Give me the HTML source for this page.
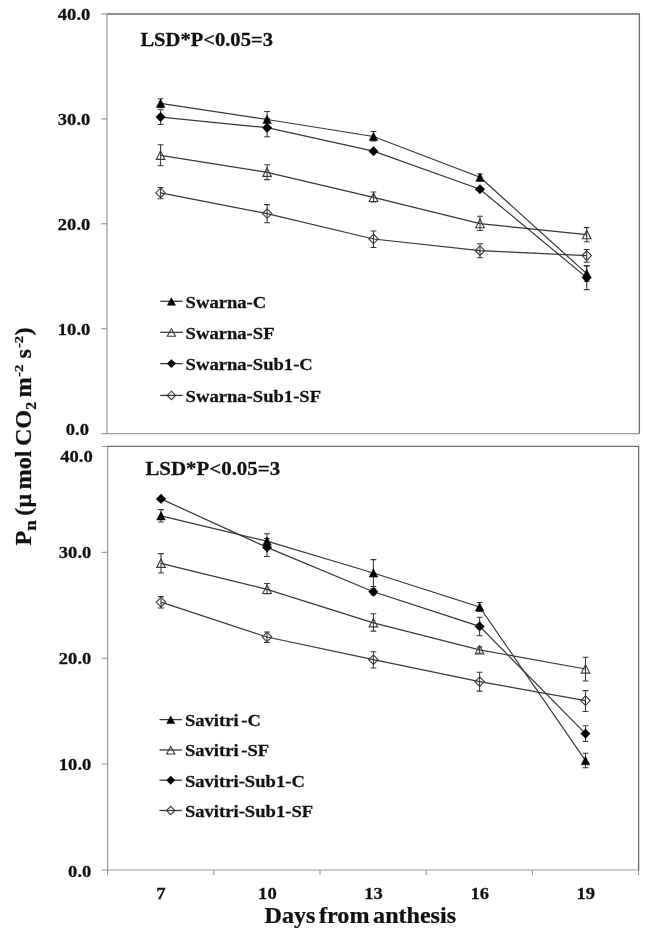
<!DOCTYPE html>
<html lang="en"><head><meta charset="utf-8"><title>Pn vs days from anthesis</title>
<style>html,body{margin:0;padding:0;background:#fff}svg{display:block;filter:blur(0.4px)}text{font-family:"Liberation Serif","Times New Roman",serif;font-weight:bold;fill:#111;stroke:#111;stroke-width:0.25px}</style>
</head><body>
<svg width="645" height="935" viewBox="0 0 645 935">
<rect width="645" height="935" fill="#fff"/>
<g>
<path d="M107.0 14.0H639.4V433.7" fill="none" stroke="#6c6c6c" stroke-width="1.3"/>
<path d="M107.0 13.4V433.7H640.0" fill="none" stroke="#9a9a9a" stroke-width="1.2"/>
<line x1="101.2" x2="107.0" y1="14.0" y2="14.0" stroke="#8a8a8a" stroke-width="1"/>
<text transform="translate(90.3,20.4) scale(1.05,1)" font-size="17.7" text-anchor="end" xml:space="preserve">40.0</text>
<line x1="101.2" x2="107.0" y1="118.9" y2="118.9" stroke="#8a8a8a" stroke-width="1"/>
<text transform="translate(90.3,125.3) scale(1.05,1)" font-size="17.7" text-anchor="end" xml:space="preserve">30.0</text>
<line x1="101.2" x2="107.0" y1="223.8" y2="223.8" stroke="#8a8a8a" stroke-width="1"/>
<text transform="translate(90.3,230.4) scale(1.05,1)" font-size="17.7" text-anchor="end" xml:space="preserve">20.0</text>
<line x1="101.2" x2="107.0" y1="328.8" y2="328.8" stroke="#8a8a8a" stroke-width="1"/>
<text transform="translate(90.3,335.3) scale(1.05,1)" font-size="17.7" text-anchor="end" xml:space="preserve">10.0</text>
<line x1="101.2" x2="107.0" y1="433.7" y2="433.7" stroke="#8a8a8a" stroke-width="1"/>
<text transform="translate(89.0,435.3) scale(1.05,1)" font-size="17.7" text-anchor="end" xml:space="preserve">0.0</text>
<polyline points="160.6,103.3 267.1,119.5 373.5,136.5 480.0,177.3 586.7,273.6" fill="none" stroke="#383838" stroke-width="1.2"/>
<polyline points="160.6,155.3 267.1,172.3 373.5,197.4 480.0,223.6 586.7,234.6" fill="none" stroke="#383838" stroke-width="1.2"/>
<polyline points="160.6,117.1 267.1,127.7 373.5,151.2 480.0,189.3 586.7,277.6" fill="none" stroke="#383838" stroke-width="1.2"/>
<polyline points="160.6,192.9 267.1,213.6 373.5,239.0 480.0,250.7 586.7,255.6" fill="none" stroke="#383838" stroke-width="1.2"/>
<polygon points="160.6,151.0 164.9,159.4 156.3,159.4" fill="none" stroke="#3c3c3c" stroke-width="1.1"/>
<polygon points="267.1,168.0 271.4,176.4 262.8,176.4" fill="none" stroke="#3c3c3c" stroke-width="1.1"/>
<polygon points="373.5,193.1 377.8,201.5 369.2,201.5" fill="none" stroke="#3c3c3c" stroke-width="1.1"/>
<polygon points="480.0,219.3 484.3,227.7 475.7,227.7" fill="none" stroke="#3c3c3c" stroke-width="1.1"/>
<polygon points="586.7,230.3 591.0,238.7 582.4,238.7" fill="none" stroke="#3c3c3c" stroke-width="1.1"/>
<polygon points="160.6,188.2 165.3,192.9 160.6,197.7 155.8,192.9" fill="none" stroke="#3c3c3c" stroke-width="1.1"/>
<polygon points="267.1,208.8 271.9,213.6 267.1,218.3 262.4,213.6" fill="none" stroke="#3c3c3c" stroke-width="1.1"/>
<polygon points="373.5,234.2 378.2,239.0 373.5,243.8 368.8,239.0" fill="none" stroke="#3c3c3c" stroke-width="1.1"/>
<polygon points="480.0,245.9 484.8,250.7 480.0,255.4 475.2,250.7" fill="none" stroke="#3c3c3c" stroke-width="1.1"/>
<polygon points="586.7,250.8 591.5,255.6 586.7,260.4 582.0,255.6" fill="none" stroke="#3c3c3c" stroke-width="1.1"/>
<path d="M160.6 144.8V165.8M157.7 144.8h5.8M157.7 165.8h5.8" stroke="#383838" stroke-width="1.05" fill="none"/>
<path d="M267.1 164.8V179.6M264.2 164.8h5.8M264.2 179.6h5.8" stroke="#383838" stroke-width="1.05" fill="none"/>
<path d="M373.5 192.0V202.0M370.6 192.0h5.8M370.6 202.0h5.8" stroke="#383838" stroke-width="1.05" fill="none"/>
<path d="M480.0 216.3V230.4M477.1 216.3h5.8M477.1 230.4h5.8" stroke="#383838" stroke-width="1.05" fill="none"/>
<path d="M586.7 227.6V241.8M583.8 227.6h5.8M583.8 241.8h5.8" stroke="#383838" stroke-width="1.05" fill="none"/>
<path d="M160.6 187.6V198.7M157.7 187.6h5.8M157.7 198.7h5.8" stroke="#383838" stroke-width="1.05" fill="none"/>
<path d="M267.1 204.6V222.7M264.2 204.6h5.8M264.2 222.7h5.8" stroke="#383838" stroke-width="1.05" fill="none"/>
<path d="M373.5 231.0V247.4M370.6 231.0h5.8M370.6 247.4h5.8" stroke="#383838" stroke-width="1.05" fill="none"/>
<path d="M480.0 243.8V257.7M477.1 243.8h5.8M477.1 257.7h5.8" stroke="#383838" stroke-width="1.05" fill="none"/>
<path d="M586.7 249.5V262.2M583.8 249.5h5.8M583.8 262.2h5.8" stroke="#383838" stroke-width="1.05" fill="none"/>
<path d="M160.6 98.8V107.8M157.7 98.8h5.8M157.7 107.8h5.8" stroke="#383838" stroke-width="1.05" fill="none"/>
<path d="M267.1 111.5V127.5M264.2 111.5h5.8M264.2 127.5h5.8" stroke="#383838" stroke-width="1.05" fill="none"/>
<path d="M373.5 131.5V141.0M370.6 131.5h5.8M370.6 141.0h5.8" stroke="#383838" stroke-width="1.05" fill="none"/>
<path d="M480.0 174.0V180.6M477.1 174.0h5.8M477.1 180.6h5.8" stroke="#383838" stroke-width="1.05" fill="none"/>
<path d="M586.7 266.0V281.2M583.8 266.0h5.8M583.8 281.2h5.8" stroke="#383838" stroke-width="1.05" fill="none"/>
<path d="M160.6 109.8V124.4M157.7 109.8h5.8M157.7 124.4h5.8" stroke="#383838" stroke-width="1.05" fill="none"/>
<path d="M267.1 118.7V136.7M264.2 118.7h5.8M264.2 136.7h5.8" stroke="#383838" stroke-width="1.05" fill="none"/>
<path d="M586.7 265.6V289.6M583.8 265.6h5.8M583.8 289.6h5.8" stroke="#383838" stroke-width="1.05" fill="none"/>
<polygon points="160.6,99.0 164.9,107.4 156.3,107.4" fill="#000" stroke="#000" stroke-width="0.5"/>
<polygon points="267.1,115.2 271.4,123.6 262.8,123.6" fill="#000" stroke="#000" stroke-width="0.5"/>
<polygon points="373.5,132.2 377.8,140.6 369.2,140.6" fill="#000" stroke="#000" stroke-width="0.5"/>
<polygon points="480.0,173.0 484.3,181.4 475.7,181.4" fill="#000" stroke="#000" stroke-width="0.5"/>
<polygon points="586.7,269.3 591.0,277.7 582.4,277.7" fill="#000" stroke="#000" stroke-width="0.5"/>
<polygon points="160.6,112.3 165.3,117.1 160.6,121.8 155.8,117.1" fill="#000" stroke="#000" stroke-width="0.5"/>
<polygon points="267.1,123.0 271.9,127.7 267.1,132.4 262.4,127.7" fill="#000" stroke="#000" stroke-width="0.5"/>
<polygon points="373.5,146.4 378.2,151.2 373.5,155.9 368.8,151.2" fill="#000" stroke="#000" stroke-width="0.5"/>
<polygon points="480.0,184.6 484.8,189.3 480.0,194.1 475.2,189.3" fill="#000" stroke="#000" stroke-width="0.5"/>
<polygon points="586.7,272.9 591.5,277.6 586.7,282.4 582.0,277.6" fill="#000" stroke="#000" stroke-width="0.5"/>
<line x1="160.2" x2="182.6" y1="301.3" y2="301.3" stroke="#383838" stroke-width="1.3"/>
<polygon points="171.4,297.8 175.5,305.3 167.3,305.3" fill="#000" stroke="#000" stroke-width="0.5"/>
<text transform="translate(185.6,307.6) scale(1.052,1)" font-size="17.7" text-anchor="start" xml:space="preserve" word-spacing="-2">Swarna-C</text>
<line x1="160.2" x2="182.6" y1="332.3" y2="332.3" stroke="#383838" stroke-width="1.3"/>
<polygon points="171.4,328.8 175.5,336.3 167.3,336.3" fill="none" stroke="#3c3c3c" stroke-width="1.1"/>
<text transform="translate(185.6,338.6) scale(1.052,1)" font-size="17.7" text-anchor="start" xml:space="preserve" word-spacing="-2">Swarna-SF</text>
<line x1="160.2" x2="182.6" y1="363.6" y2="363.6" stroke="#383838" stroke-width="1.3"/>
<polygon points="171.4,359.4 175.6,363.6 171.4,367.8 167.2,363.6" fill="#000" stroke="#000" stroke-width="0.5"/>
<text transform="translate(185.6,369.9) scale(1.052,1)" font-size="17.7" text-anchor="start" xml:space="preserve" word-spacing="-2">Swarna-Sub1-C</text>
<line x1="160.2" x2="182.6" y1="395.4" y2="395.4" stroke="#383838" stroke-width="1.3"/>
<polygon points="171.4,391.2 175.6,395.4 171.4,399.6 167.2,395.4" fill="none" stroke="#3c3c3c" stroke-width="1.1"/>
<text transform="translate(185.6,401.7) scale(1.052,1)" font-size="17.7" text-anchor="start" xml:space="preserve" word-spacing="-2">Swarna-Sub1-SF</text>
<text transform="translate(140.4,46.0) scale(1.06,1)" font-size="19.4" text-anchor="start" xml:space="preserve">LSD*P&lt;0.05=3</text>
</g>
<rect x="0" y="436" width="645" height="9" fill="#fff"/>
<g>
<path d="M107.6 446.4H638.6V870.0" fill="none" stroke="#6c6c6c" stroke-width="1.3"/>
<path d="M107.6 445.79999999999995V870.0H639.2" fill="none" stroke="#9a9a9a" stroke-width="1.2"/>
<line x1="101.8" x2="107.6" y1="446.4" y2="446.4" stroke="#8a8a8a" stroke-width="1"/>
<text transform="translate(92.7,462.3) scale(1.05,1)" font-size="17.7" text-anchor="end" xml:space="preserve">40.0</text>
<line x1="101.8" x2="107.6" y1="552.3" y2="552.3" stroke="#8a8a8a" stroke-width="1"/>
<text transform="translate(91.3,558.4) scale(1.05,1)" font-size="17.7" text-anchor="end" xml:space="preserve">30.0</text>
<line x1="101.8" x2="107.6" y1="658.2" y2="658.2" stroke="#8a8a8a" stroke-width="1"/>
<text transform="translate(91.3,664.4) scale(1.05,1)" font-size="17.7" text-anchor="end" xml:space="preserve">20.0</text>
<line x1="101.8" x2="107.6" y1="764.1" y2="764.1" stroke="#8a8a8a" stroke-width="1"/>
<text transform="translate(91.3,770.3) scale(1.05,1)" font-size="17.7" text-anchor="end" xml:space="preserve">10.0</text>
<line x1="101.8" x2="107.6" y1="870.0" y2="870.0" stroke="#8a8a8a" stroke-width="1"/>
<text transform="translate(91.3,876.6) scale(1.05,1)" font-size="17.7" text-anchor="end" xml:space="preserve">0.0</text>
<line x1="107.6" x2="107.6" y1="870.0" y2="875.2" stroke="#8a8a8a" stroke-width="1"/>
<line x1="213.8" x2="213.8" y1="870.0" y2="875.2" stroke="#8a8a8a" stroke-width="1"/>
<line x1="320.0" x2="320.0" y1="870.0" y2="875.2" stroke="#8a8a8a" stroke-width="1"/>
<line x1="426.2" x2="426.2" y1="870.0" y2="875.2" stroke="#8a8a8a" stroke-width="1"/>
<line x1="532.4" x2="532.4" y1="870.0" y2="875.2" stroke="#8a8a8a" stroke-width="1"/>
<line x1="638.6" x2="638.6" y1="870.0" y2="875.2" stroke="#8a8a8a" stroke-width="1"/>
<polyline points="161.0,515.8 267.0,541.2 373.4,573.0 479.6,607.0 585.5,760.6" fill="none" stroke="#383838" stroke-width="1.2"/>
<polyline points="161.0,563.3 267.0,589.4 373.4,622.8 479.6,649.9 585.5,669.0" fill="none" stroke="#383838" stroke-width="1.2"/>
<polyline points="161.0,498.9 267.0,547.4 373.4,591.8 479.6,626.4 585.5,733.6" fill="none" stroke="#383838" stroke-width="1.2"/>
<polyline points="161.0,602.1 267.0,637.0 373.4,659.7 479.6,681.6 585.5,700.6" fill="none" stroke="#383838" stroke-width="1.2"/>
<polygon points="161.0,559.0 165.3,567.4 156.7,567.4" fill="none" stroke="#3c3c3c" stroke-width="1.1"/>
<polygon points="267.0,585.1 271.3,593.5 262.7,593.5" fill="none" stroke="#3c3c3c" stroke-width="1.1"/>
<polygon points="373.4,618.5 377.7,626.9 369.1,626.9" fill="none" stroke="#3c3c3c" stroke-width="1.1"/>
<polygon points="479.6,645.6 483.9,654.0 475.3,654.0" fill="none" stroke="#3c3c3c" stroke-width="1.1"/>
<polygon points="585.5,664.7 589.8,673.1 581.2,673.1" fill="none" stroke="#3c3c3c" stroke-width="1.1"/>
<polygon points="161.0,597.4 165.8,602.1 161.0,606.9 156.2,602.1" fill="none" stroke="#3c3c3c" stroke-width="1.1"/>
<polygon points="267.0,632.2 271.8,637.0 267.0,641.8 262.2,637.0" fill="none" stroke="#3c3c3c" stroke-width="1.1"/>
<polygon points="373.4,655.0 378.1,659.7 373.4,664.5 368.6,659.7" fill="none" stroke="#3c3c3c" stroke-width="1.1"/>
<polygon points="479.6,676.9 484.4,681.6 479.6,686.4 474.9,681.6" fill="none" stroke="#3c3c3c" stroke-width="1.1"/>
<polygon points="585.5,695.9 590.2,700.6 585.5,705.4 580.8,700.6" fill="none" stroke="#3c3c3c" stroke-width="1.1"/>
<path d="M161.0 553.6V573.0M158.1 553.6h5.8M158.1 573.0h5.8" stroke="#383838" stroke-width="1.05" fill="none"/>
<path d="M267.0 583.5V593.6M264.1 583.5h5.8M264.1 593.6h5.8" stroke="#383838" stroke-width="1.05" fill="none"/>
<path d="M373.4 613.8V631.1M370.5 613.8h5.8M370.5 631.1h5.8" stroke="#383838" stroke-width="1.05" fill="none"/>
<path d="M479.6 646.9V653.3M476.7 646.9h5.8M476.7 653.3h5.8" stroke="#383838" stroke-width="1.05" fill="none"/>
<path d="M585.5 657.3V680.9M582.6 657.3h5.8M582.6 680.9h5.8" stroke="#383838" stroke-width="1.05" fill="none"/>
<path d="M161.0 596.6V607.9M158.1 596.6h5.8M158.1 607.9h5.8" stroke="#383838" stroke-width="1.05" fill="none"/>
<path d="M267.0 631.9V642.4M264.1 631.9h5.8M264.1 642.4h5.8" stroke="#383838" stroke-width="1.05" fill="none"/>
<path d="M373.4 651.8V668.0M370.5 651.8h5.8M370.5 668.0h5.8" stroke="#383838" stroke-width="1.05" fill="none"/>
<path d="M479.6 672.2V691.1M476.7 672.2h5.8M476.7 691.1h5.8" stroke="#383838" stroke-width="1.05" fill="none"/>
<path d="M585.5 690.6V711.5M582.6 690.6h5.8M582.6 711.5h5.8" stroke="#383838" stroke-width="1.05" fill="none"/>
<path d="M161.0 509.6V522.0M158.1 509.6h5.8M158.1 522.0h5.8" stroke="#383838" stroke-width="1.05" fill="none"/>
<path d="M267.0 533.7V548.7M264.1 533.7h5.8M264.1 548.7h5.8" stroke="#383838" stroke-width="1.05" fill="none"/>
<path d="M373.4 559.6V586.4M370.5 559.6h5.8M370.5 586.4h5.8" stroke="#383838" stroke-width="1.05" fill="none"/>
<path d="M479.6 602.5V611.5M476.7 602.5h5.8M476.7 611.5h5.8" stroke="#383838" stroke-width="1.05" fill="none"/>
<path d="M585.5 753.3V767.8M582.6 753.3h5.8M582.6 767.8h5.8" stroke="#383838" stroke-width="1.05" fill="none"/>
<path d="M267.0 538.4V556.4M264.1 538.4h5.8M264.1 556.4h5.8" stroke="#383838" stroke-width="1.05" fill="none"/>
<path d="M373.4 588.8V594.8M370.5 588.8h5.8M370.5 594.8h5.8" stroke="#383838" stroke-width="1.05" fill="none"/>
<path d="M479.6 617.3V635.7M476.7 617.3h5.8M476.7 635.7h5.8" stroke="#383838" stroke-width="1.05" fill="none"/>
<path d="M585.5 725.8V741.5M582.6 725.8h5.8M582.6 741.5h5.8" stroke="#383838" stroke-width="1.05" fill="none"/>
<polygon points="161.0,511.5 165.3,519.9 156.7,519.9" fill="#000" stroke="#000" stroke-width="0.5"/>
<polygon points="267.0,536.9 271.3,545.3 262.7,545.3" fill="#000" stroke="#000" stroke-width="0.5"/>
<polygon points="373.4,568.7 377.7,577.1 369.1,577.1" fill="#000" stroke="#000" stroke-width="0.5"/>
<polygon points="479.6,602.7 483.9,611.1 475.3,611.1" fill="#000" stroke="#000" stroke-width="0.5"/>
<polygon points="585.5,756.3 589.8,764.7 581.2,764.7" fill="#000" stroke="#000" stroke-width="0.5"/>
<polygon points="161.0,494.1 165.8,498.9 161.0,503.6 156.2,498.9" fill="#000" stroke="#000" stroke-width="0.5"/>
<polygon points="267.0,542.6 271.8,547.4 267.0,552.1 262.2,547.4" fill="#000" stroke="#000" stroke-width="0.5"/>
<polygon points="373.4,587.0 378.1,591.8 373.4,596.5 368.6,591.8" fill="#000" stroke="#000" stroke-width="0.5"/>
<polygon points="479.6,621.6 484.4,626.4 479.6,631.1 474.9,626.4" fill="#000" stroke="#000" stroke-width="0.5"/>
<polygon points="585.5,728.9 590.2,733.6 585.5,738.4 580.8,733.6" fill="#000" stroke="#000" stroke-width="0.5"/>
<line x1="159.5" x2="181.9" y1="719.6" y2="719.6" stroke="#383838" stroke-width="1.3"/>
<polygon points="170.7,716.1 174.8,723.6 166.6,723.6" fill="#000" stroke="#000" stroke-width="0.5"/>
<text transform="translate(184.9,725.9) scale(1.052,1)" font-size="17.7" text-anchor="start" xml:space="preserve" word-spacing="-2">Savitri -C</text>
<line x1="159.5" x2="181.9" y1="750.0" y2="750.0" stroke="#383838" stroke-width="1.3"/>
<polygon points="170.7,746.5 174.8,754.0 166.6,754.0" fill="none" stroke="#3c3c3c" stroke-width="1.1"/>
<text transform="translate(184.9,756.3) scale(1.052,1)" font-size="17.7" text-anchor="start" xml:space="preserve" word-spacing="-2">Savitri -SF</text>
<line x1="159.5" x2="181.9" y1="780.2" y2="780.2" stroke="#383838" stroke-width="1.3"/>
<polygon points="170.7,776.0 174.9,780.2 170.7,784.4 166.5,780.2" fill="#000" stroke="#000" stroke-width="0.5"/>
<text transform="translate(184.9,786.5) scale(1.052,1)" font-size="17.7" text-anchor="start" xml:space="preserve" word-spacing="-2">Savitri-Sub1-C</text>
<line x1="159.5" x2="181.9" y1="810.5" y2="810.5" stroke="#383838" stroke-width="1.3"/>
<polygon points="170.7,806.3 174.9,810.5 170.7,814.7 166.5,810.5" fill="none" stroke="#3c3c3c" stroke-width="1.1"/>
<text transform="translate(184.9,816.8) scale(1.052,1)" font-size="17.7" text-anchor="start" xml:space="preserve" word-spacing="-2">Savitri-Sub1-SF</text>
<text transform="translate(145.4,475.0) scale(1.078,1)" font-size="19.4" text-anchor="start" xml:space="preserve">LSD*P&lt;0.05=3</text>
</g>
<text transform="translate(161.0,898.6) scale(1.05,1)" font-size="17.7" text-anchor="middle" xml:space="preserve">7</text>
<text transform="translate(267.4,898.6) scale(1.05,1)" font-size="17.7" text-anchor="middle" xml:space="preserve">10</text>
<text transform="translate(373.6,898.6) scale(1.05,1)" font-size="17.7" text-anchor="middle" xml:space="preserve">13</text>
<text transform="translate(479.8,898.6) scale(1.05,1)" font-size="17.7" text-anchor="middle" xml:space="preserve">16</text>
<text transform="translate(585.8,898.6) scale(1.05,1)" font-size="17.7" text-anchor="middle" xml:space="preserve">19</text>
<text transform="translate(264.6,922.7) scale(1.075,1)" font-size="22.4" text-anchor="start" xml:space="preserve" word-spacing="-2.2">Days from anthesis</text>
<text transform="translate(31.0,545.4) rotate(-90) scale(1.085,1)" font-size="22.3" word-spacing="-1.5" xml:space="preserve">P<tspan font-size="17.5" dy="4.5">n</tspan><tspan dy="-4.5"> (μ mol CO</tspan><tspan font-size="14.5" dy="5">2</tspan><tspan dy="-5"> m</tspan><tspan font-size="13.4" dy="-8.2" dx="0.6">-2</tspan><tspan dy="8.2" dx="1.7"> s</tspan><tspan font-size="13.4" dy="-8.2" dx="0.8">-2</tspan><tspan dy="8.2" dx="0.4">)</tspan></text>
</svg>
</body></html>
